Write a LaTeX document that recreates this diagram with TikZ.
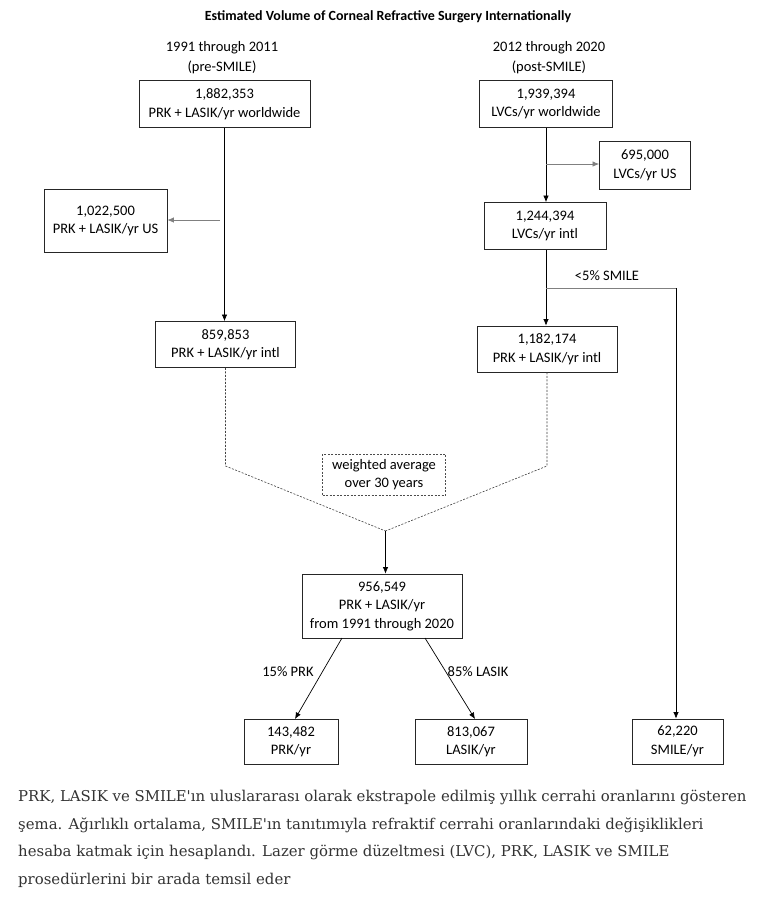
\documentclass[tikz,border=0pt]{standalone}
\usepackage{fontspec}
\setmainfont{Carlito}
\newfontfamily\capfont{DejaVu Serif}
\usetikzlibrary{arrows.meta}
\definecolor{capgray}{HTML}{333333}
\definecolor{brgray}{HTML}{808080}
\begin{document}
\begin{tikzpicture}[x=1pt,y=-1pt,
  box/.style 2 args={draw=black!85,line width=0.8pt,minimum width=#1,minimum height=#2,
    align=center,inner sep=0pt,font=\fontsize{14.5}{18.5}\selectfont},
  wbox/.style 2 args={box={#1}{#2},draw=black!70,dash pattern=on 2pt off 1.5pt},
  lab/.style={align=center,inner sep=0pt,font=\fontsize{14.5}{20}\selectfont},
  arr/.style={line width=0.7pt,-{Latex[length=6.5pt,width=5.5pt]}},
  ln/.style={line width=0.7pt},
  grayarr/.style={arr,draw=brgray},
  grayln/.style={ln,draw=brgray},
  dsh/.style={line width=0.6pt,draw=black!75,dash pattern=on 2pt off 1.5pt}]
\useasboundingbox (0,0) rectangle (759,898);
\fill[white] (0,0) rectangle (759,898);
% title and headers
\node[lab,font=\fontsize{14}{16}\selectfont\bfseries] (title) at (388,17) {Estimated Volume of Corneal Refractive Surgery Internationally};
\node[lab] (h1) at (222,58) {1991 through 2011\\(pre-SMILE)};
\node[lab] (h2) at (549,58) {2012 through 2020\\(post-SMILE)};
% boxes
\node[box={171pt}{47pt}] (A) at (224.5,104) {1,882,353\\PRK + LASIK/yr worldwide};
\node[box={133pt}{47pt}] (B) at (546,104) {1,939,394\\LVCs/yr worldwide};
\node[box={91pt}{48pt}] (US2) at (645,165.5) {695,000\\LVCs/yr US};
\node[box={122pt}{47pt}] (I2) at (545,226) {1,244,394\\LVCs/yr intl};
\node[box={123pt}{63pt}] (US1) at (105.5,221) {1,022,500\\PRK + LASIK/yr US};
\node[box={140pt}{46pt}] (I1) at (225.5,344.5) {859,853\\PRK + LASIK/yr intl};
\node[box={140pt}{46pt}] (P2) at (547,349) {1,182,174\\PRK + LASIK/yr intl};
\node[wbox={123pt}{41pt}] (W) at (384,474.5) {weighted average\\over 30 years};
\node[box={160pt}{64pt}] (T) at (382,606) {956,549\\PRK + LASIK/yr\\from 1991 through 2020};
\node[box={94pt}{45pt}] (PRK) at (291,741.5) {143,482\\PRK/yr};
\node[box={112pt}{45pt}] (LASIK) at (471,741.5) {813,067\\LASIK/yr};
\node[box={91pt}{45pt}] (SM) at (677.5,741.5) {62,220\\SMILE/yr};
% left column
\draw[arr] (A.south) -- (A.south |- I1.north);
\coordinate (a1) at (220,220);
\draw[grayarr] (a1) -- (US1.east |- a1);
% right column
\draw[arr] (B.south) -- (B.south |- I2.north);
\coordinate (b1) at (546,164);
\draw[grayarr] (b1) -- (US2.west |- b1);
\draw[arr] (I2.south -| B.south) -- (B.south |- P2.north);
\coordinate (s1) at (546,288);
\coordinate (s2) at (676,288);
\draw[grayln] (s1) -- (s2);
\draw[arr] (s2) -- (s2 |- SM.north);
\node[lab] (smlab) at (607,276) {<5\% SMILE};
% weighted average
\coordinate (m) at (385.5,531);
\coordinate (d1) at (I1.south |- 0,466);
\coordinate (d2) at (P2.south |- 0,466);
\draw[dsh] (I1.south) -- (d1) -- (m);
\draw[dsh] (P2.south) -- (d2) -- (m);
\draw[arr] (m) -- (m |- T.north);
% split
\coordinate (t1) at (342,638);
\coordinate (t2) at (425,638);
\coordinate (e1) at (295,719);
\coordinate (e2) at (475,719);
\draw[arr] (t1) -- (e1);
\draw[arr] (t2) -- (e2);
\node[lab] (l1) at (288,672) {15\% PRK};
\node[lab] (l2) at (478,672) {85\% LASIK};
% caption
\node[anchor=north west,inner sep=0pt,align=left,text=capgray,
  font=\capfont\fontsize{14.9}{27.5}\selectfont] (cap) at (18,790)
  {PRK, LASIK ve SMILE'ın uluslararası olarak ekstrapole edilmiş yıllık cerrahi oranlarını gösteren\\
   şema. Ağırlıklı ortalama, SMILE'ın tanıtımıyla refraktif cerrahi oranlarındaki değişiklikleri\\
   hesaba katmak için hesaplandı. Lazer görme düzeltmesi (LVC), PRK, LASIK ve SMILE\\
   prosedürlerini bir arada temsil eder};
\end{tikzpicture}
\end{document}
